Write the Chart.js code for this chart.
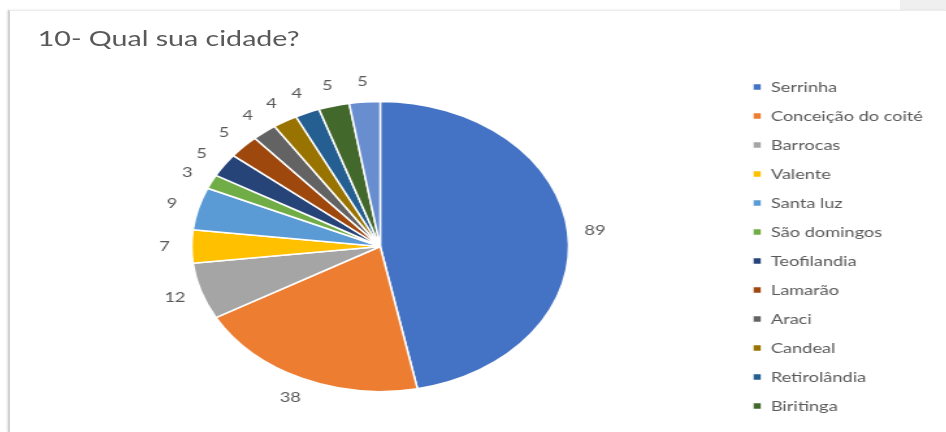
<!DOCTYPE html>
<html lang="pt">
<head>
<meta charset="UTF-8">
<title>10- Qual sua cidade?</title>
<script src="https://cdn.jsdelivr.net/npm/chart.js"></script>
<style>
    html, body { margin: 0; padding: 0; background: #fff; }
    body { width: 946px; height: 432px; overflow: hidden; position: relative; font-family: Lato, sans-serif; }
    #tab { position: absolute; left: 900px; top: 0; width: 46px; height: 10px; background: #efefef; }
    #frame { position: absolute; left: 8px; top: 10px; right: 0; bottom: 0;
             border-left: 2px solid #d2d2d2; border-top: 1px solid #ececec; box-shadow: -1px 0 2px #e2e2e2; }
    /* the original picture is stretched sideways, so the whole chart is too */
    #stage { position: absolute; left: 0; top: 0; width: 728px; height: 432px;
             transform: scaleX(1.3); transform-origin: 0 0; }
    #title { position: absolute; left: 29px; top: 24px; font-size: 22px; color: #595959; white-space: nowrap; }
    canvas { position: absolute; left: 0; top: 0; }
</style>
</head>
<body>
<div id="tab"></div>
<div id="frame"></div>
<div id="stage">
    <div id="title">10- Qual sua cidade?</div>
    <canvas id="cidadeChart" width="728" height="432"></canvas>
</div>

<script>
    // Respostas por cidade (a última fatia não aparece na legenda cortada)
    const cidades = ['Serrinha', 'Conceição do coité', 'Barrocas', 'Valente', 'Santa luz', 'São domingos',
                     'Teofilandia', 'Lamarão', 'Araci', 'Candeal', 'Retirolândia', 'Biritinga', ''];
    const respostas = [89, 38, 12, 7, 9, 3, 5, 5, 4, 4, 4, 5, 5];
    const cores = ['#4472C4', '#ED7D31', '#A5A5A5', '#FFC000', '#5B9BD5', '#70AD47',
                   '#264478', '#9E480E', '#636363', '#997300', '#255E91', '#43682B', '#698ED0'];

    // Valores fora das fatias
    const valueLabels = {
        id: 'valueLabels',
        afterDatasetsDraw(chart) {
            const ctx = chart.ctx;
            const meta = chart.getDatasetMeta(0);
            ctx.save();
            ctx.font = '14px Lato';
            ctx.fillStyle = '#595959';
            ctx.textAlign = 'center';
            ctx.textBaseline = 'middle';
            meta.data.forEach((arc, i) => {
                const p = arc.getProps(['x', 'y', 'startAngle', 'endAngle', 'outerRadius'], true);
                const mid = (p.startAngle + p.endAngle) / 2;
                const r = p.outerRadius + 21;
                ctx.fillText(String(respostas[i]), p.x + Math.cos(mid) * r, p.y + Math.sin(mid) * r);
            });
            ctx.restore();
        }
    };

    const ctx = document.getElementById('cidadeChart').getContext('2d');
    new Chart(ctx, {
        type: 'pie',
        data: {
            labels: cidades,
            datasets: [{
                data: respostas,
                backgroundColor: cores,
                borderColor: '#ffffff',
                borderWidth: 1.5,
                radius: 145
            }]
        },
        options: {
            responsive: false,
            animation: false,
            layout: { padding: { top: 61, left: 21, right: 8, bottom: 0 } },
            plugins: {
                legend: {
                    position: 'right',
                    labels: {
                        boxWidth: 7,
                        boxHeight: 7,
                        padding: 15,
                        color: '#595959',
                        font: { family: 'Lato', size: 14 },
                        filter: item => item.text !== ''
                    }
                },
                tooltip: { enabled: false }
            }
        },
        plugins: [valueLabels]
    });
</script>
</body>
</html>
